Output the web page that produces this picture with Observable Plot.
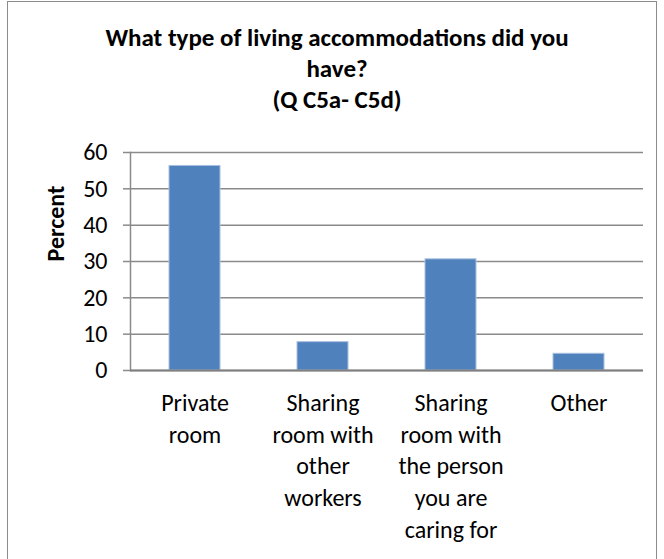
<!DOCTYPE html>
<html>
<head>
<meta charset="utf-8">
<script src="https://cdn.jsdelivr.net/npm/d3@7"></script>
<script src="https://cdn.jsdelivr.net/npm/@observablehq/plot@0.6"></script>
<style>
  html, body { margin: 0; padding: 0; background: #fff; }
  body { width: 664px; height: 559px; position: relative; overflow: hidden; font-family: Carlito, Lato, "Open Sans", sans-serif; }
  #frame { position: absolute; left: 7px; top: 1px; width: 650px; height: 620px; border: 1.5px solid #8c8c8c; box-sizing: border-box; }
  #title { position: absolute; left: 10px; width: 654px; top: 22px; text-align: center; font-weight: bold; font-size: 25px; line-height: 31px; color: #000; }
  #chart { position: absolute; left: 0; top: 0; }
</style>
</head>
<body>
<div id="frame"></div>
<div id="chart"></div>
<div id="title">What type of living accommodations did you<br>have?<br>(Q C5a- C5d)</div>
<script>
const categories = ["Private room", "Sharing room with other workers", "Sharing room with the person you are caring for", "Other"];
const tickLabels = ["Private\nroom", "Sharing\nroom with\nother\nworkers", "Sharing\nroom with\nthe person\nyou are\ncaring for", "Other"];
const percent = [56.3, 7.8, 30.6, 4.6];
const yTicks = [0, 10, 20, 30, 40, 50, 60];

const data = categories.map((c, i) => ({category: c, value: percent[i]}));
const labelOf = new Map(categories.map((c, i) => [c, tickLabels[i]]));

const chart = Plot.plot({
  width: 664,
  height: 559,
  marginLeft: 130,
  marginRight: 21,
  marginTop: 152,
  marginBottom: 189,
  style: {fontFamily: "Carlito, Lato, 'Open Sans', sans-serif", background: "transparent", color: "#000"},
  x: {domain: categories, paddingInner: 0.6, paddingOuter: 0.3, label: null},
  y: {domain: [0, 60], label: null},
  marks: [
    Plot.gridY(yTicks, {stroke: "#8a8a8a", strokeOpacity: 1, strokeWidth: 1.5}),
    Plot.barY(data, {x: "category", y: "value", fill: "#4f81bd", stroke: "#a9c0e0", strokeWidth: 1}),
    Plot.frame({anchor: "left", stroke: "#8a8a8a", strokeWidth: 1.5}),
    Plot.ruleY([0], {stroke: "#7f7f7f", strokeWidth: 2}),
    Plot.axisY(yTicks, {tickSize: 7, tickPadding: 16, stroke: "#8a8a8a", strokeWidth: 1.5, fontSize: 24, tickFormat: d => String(d), label: null}),
    Plot.axisX({tickSize: 0, tickPadding: 18, fontSize: 24, lineHeight: 1.32, tickFormat: d => labelOf.get(d), label: null}),
    Plot.text(["Percent"], {frameAnchor: "left", dx: -74, rotate: -90, fontWeight: "bold", fontSize: 24})
  ]
});
document.getElementById("chart").appendChild(chart);
</script>
</body>
</html>
